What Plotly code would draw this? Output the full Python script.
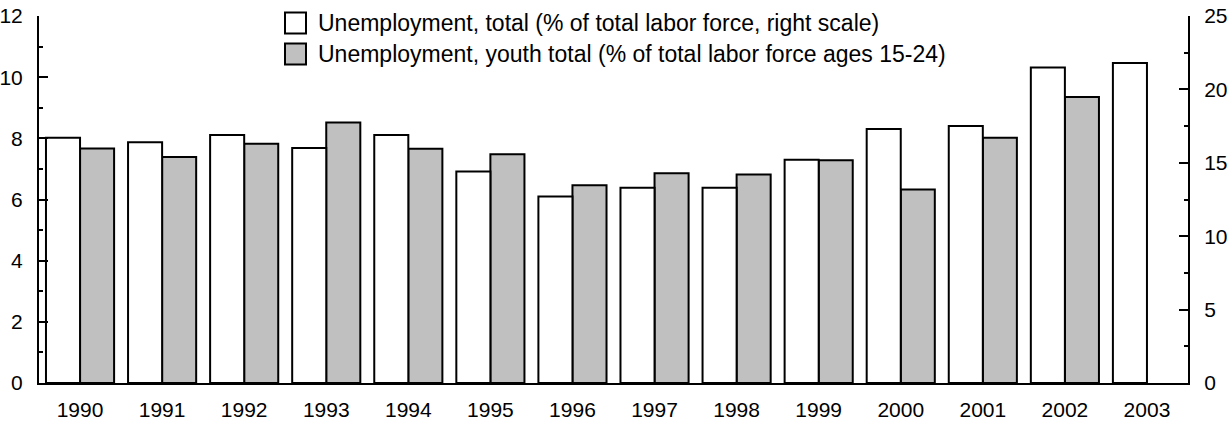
import plotly.graph_objects as go

years = ["1990", "1991", "1992", "1993", "1994", "1995", "1996", "1997",
         "1998", "1999", "2000", "2001", "2002", "2003"]
# Unemployment, total (% of total labor force) - right scale
total = [16.7, 16.4, 16.9, 16.0, 16.9, 14.4, 12.7, 13.3, 13.3, 15.2, 17.3, 17.5, 21.5, 21.8]
# Unemployment, youth total (% of total labor force ages 15-24) - left scale
youth = [7.67, 7.39, 7.82, 8.52, 7.66, 7.48, 6.47, 6.86, 6.82, 7.28, 6.33, 8.02, 9.35, None]

name_total = "Unemployment, total (% of total labor force, right scale)"
name_youth = "Unemployment, youth total (% of total labor force ages 15-24)"

FONT = "Liberation Sans, Arial, sans-serif"

fig = go.Figure()
fig.add_trace(go.Bar(x=years, y=total, name=name_total, yaxis="y2",
                     offsetgroup="a",
                     marker=dict(color="white", line=dict(color="black", width=2))))
fig.add_trace(go.Bar(x=years, y=youth, name=name_youth, yaxis="y",
                     offsetgroup="b",
                     marker=dict(color="#c0c0c0", line=dict(color="black", width=2))))

# manual legend
legend_rows = [(name_total, "white", 23), (name_youth, "#c0c0c0", 54)]
for text, col, yc in legend_rows:
    fig.add_shape(type="rect", xref="paper", yref="paper",
                  x0=(285 - 39) / 1149, x1=(306 - 39) / 1149,
                  y0=(383 - (yc + 10.5)) / 367, y1=(383 - (yc - 10.5)) / 367,
                  fillcolor=col, line=dict(color="black", width=2))
    fig.add_annotation(text=text, xref="paper", yref="paper",
                       x=(316 - 39) / 1149, y=(383 - yc) / 367,
                       xanchor="left", yanchor="middle", showarrow=False,
                       font=dict(family=FONT, size=23, color="black"))

fig.update_layout(
    width=1232, height=425,
    margin=dict(l=39, r=44, t=16, b=42),
    paper_bgcolor="white", plot_bgcolor="white",
    barmode="group", bargap=0.17, bargroupgap=0,
    showlegend=False,
    font=dict(family=FONT, size=21, color="black"),
    xaxis=dict(type="category", range=[-0.5, 13.5], showline=True, linecolor="black",
               linewidth=2, ticks="", showgrid=False, ticklabelstandoff=7,
               automargin=False, tickfont=dict(size=21)),
    yaxis=dict(range=[0, 12], dtick=2, showline=True, linecolor="black", linewidth=2,
               ticks="inside", ticklen=9, tickwidth=2, tickcolor="black",
               showgrid=False, zeroline=False, ticklabelstandoff=10, automargin=False,
               minor=dict(dtick=1, ticks="inside", ticklen=4, tickwidth=1.5, tickcolor="black"),
               tickfont=dict(size=21)),
    yaxis2=dict(range=[0, 25], dtick=5, overlaying="y", side="right", showline=True,
                linecolor="black", linewidth=2, ticks="inside", ticklen=9, tickwidth=2,
                tickcolor="black", showgrid=False, zeroline=False, ticklabelstandoff=10,
                automargin=False,
                minor=dict(dtick=2.5, ticks="inside", ticklen=4, tickwidth=1.5, tickcolor="black"),
                tickfont=dict(size=21)),
)

fig.write_html("out.html", config={"displayModeBar": False},
               post_script="document.body.style.margin='0px';document.body.style.overflow='hidden';")
